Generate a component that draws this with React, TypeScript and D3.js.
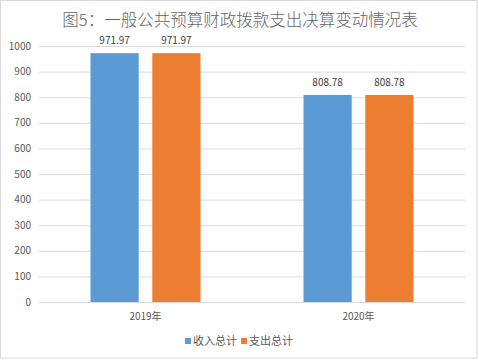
import React, { useEffect } from "react";
import * as d3 from "d3";

const categories = ["2019年", "2020年"];
const seriesNames = ["收入总计", "支出总计"];
const incomeValues = [971.97, 808.78];
const expenseValues = [971.97, 808.78];
const yTicks = [0, 100, 200, 300, 400, 500, 600, 700, 800, 900, 1000];
const colors = ["#5B9BD5", "#ED7D31"];
const titleText = "图5：一般公共预算财政拨款支出决算变动情况表";

const W = 479;
const H = 360;
const FONT = "'Noto Sans CJK SC', 'Noto Sans', sans-serif";

export default function App() {
  useEffect(() => {
    document.body.style.margin = "0";
  }, []);

  const left = 39;
  const right = 465;
  const top = 46;
  const bottom = 302;

  const y = d3.scaleLinear().domain([0, 1000]).range([bottom, top]);
  const x0 = d3.scaleBand<string>().domain(categories).range([left, right]).paddingInner(0).paddingOuter(0);
  const x1 = d3.scaleBand<string>().domain(seriesNames).range([0, 110]).paddingInner(0.22);
  const groupOffset = (x0.bandwidth() - 110) / 2;

  const series = [incomeValues, expenseValues];

  return (
    <svg width={W} height={H} style={{ display: "block", fontFamily: FONT }}>
      <rect x={0.5} y={0.5} width={476.5} height={357.5} fill="#fff" stroke="#D9D9D9" />
      <text x={240} y={26} textAnchor="middle" fontSize={16.5} fontWeight={300} fill="#666666">
        {titleText}
      </text>
      {yTicks.map((t) => (
        <g key={t}>
          <line x1={left} x2={right} y1={y(t) + 0.5} y2={y(t) + 0.5} stroke="#D9D9D9" strokeWidth={1} />
          <text x={31} y={y(t)} dy="0.35em" textAnchor="end" fontSize={10} fill="#595959">
            {t}
          </text>
        </g>
      ))}
      {categories.map((c, ci) => (
        <g key={c}>
          {seriesNames.map((s, si) => {
            const v = series[si][ci];
            const bx = (x0(c) as number) + groupOffset + (x1(s) as number);
            return (
              <g key={s}>
                <rect x={bx} y={y(v)} width={x1.bandwidth()} height={y(0) - y(v)} fill={colors[si]} />
                <text x={bx + x1.bandwidth() / 2} y={y(v) - 9} textAnchor="middle" fontSize={10} fill="#404040">
                  {v.toFixed(2)}
                </text>
              </g>
            );
          })}
          <text x={(x0(c) as number) + x0.bandwidth() / 2} y={320} textAnchor="middle" fontSize={10} fill="#595959">
            {c}
          </text>
        </g>
      ))}
      {seriesNames.map((s, si) => {
        const lx = si === 0 ? 185 : 241;
        return (
          <g key={s}>
            <rect x={lx} y={338} width={6} height={6} fill={colors[si]} />
            <text x={lx + 8} y={341} dy="0.35em" fontSize={11} fill="#595959">
              {s}
            </text>
          </g>
        );
      })}
    </svg>
  );
}
